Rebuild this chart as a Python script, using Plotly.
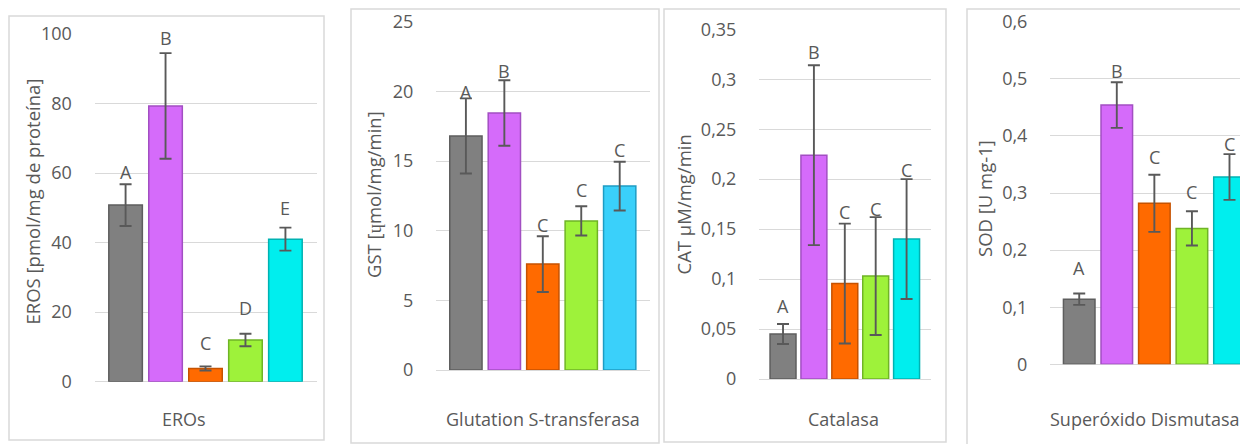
import plotly.graph_objects as go

W, H = 1248, 444
OFF = 8  # page body margin offset of the rendered figure

# ---------------- data ----------------
series_names = ["Grupo 1", "Grupo 2", "Grupo 3", "Grupo 4", "Grupo 5"]

eros_category = ["EROs"]
eros_mean = [50.8, 79.3, 3.8, 12.0, 41.0]
eros_err = [6.0, 15.2, 0.6, 1.8, 3.3]
eros_letters = ["A", "B", "C", "D", "E"]
eros_ticks = [0, 20, 40, 60, 80, 100]
eros_ticktext = ["0", "20", "40", "60", "80", "100"]

gst_category = ["Glutation S-transferasa"]
gst_mean = [16.8, 18.45, 7.6, 10.7, 13.2]
gst_err = [2.7, 2.35, 2.0, 1.05, 1.75]
gst_letters = ["A", "B", "C", "C", "C"]
gst_ticks = [0, 5, 10, 15, 20, 25]
gst_ticktext = ["0", "5", "10", "15", "20", "25"]

cat_category = ["Catalasa"]
cat_mean = [0.045, 0.224, 0.0955, 0.103, 0.140]
cat_err = [0.01, 0.09, 0.06, 0.059, 0.06]
cat_letters = ["A", "B", "C", "C", "C"]
cat_ticks = [0, 0.05, 0.1, 0.15, 0.2, 0.25, 0.3, 0.35]
cat_ticktext = ["0", "0,05", "0,1", "0,15", "0,2", "0,25", "0,3", "0,35"]

sod_category = ["Superóxido Dismutasa"]
sod_mean = [0.114, 0.454, 0.282, 0.238, 0.328]
sod_err = [0.01, 0.04, 0.05, 0.03, 0.04]
sod_letters = ["A", "B", "C", "C", "C"]
sod_ticks = [0, 0.1, 0.2, 0.3, 0.4, 0.5, 0.6]
sod_ticktext = ["0", "0,1", "0,2", "0,3", "0,4", "0,5", "0,6"]

# ---------------- styles ----------------
FONT = "Open Sans"
TXT = "#595959"
GRID = "#D9D9D9"
fills_std = ["#808080", "#D56BFA", "#FF6A00", "#9EF23A", "#00EEEE"]
fills_gst = ["#808080", "#D56BFA", "#FF6A00", "#9EF23A", "#3AD0FA"]
edges_std = ["#5E5E5E", "#A24FC2", "#C65200", "#6FB426", "#00B2B2"]
edges_gst = ["#5E5E5E", "#A24FC2", "#C65200", "#6FB426", "#1E9CC4"]

BARGAP = 0.1
BARGROUPGAP = 0.16

panels = [
    dict(cat=eros_category, mean=eros_mean, err=eros_err, letters=eros_letters,
         ticks=eros_ticks, ticktext=eros_ticktext, ymax=100,
         ytitle="EROS [pmol/mg de proteína]",
         fills=fills_std, edges=edges_std,
         px=(94.5, 316.5), py=(34, 381.7), xr=(-0.5, 0.5),
         border=(9, 16, 324, 440), ytitle_xy=(32, 201.5), xlab_x=184,
         offs=[12, 15, 23, 26, 20]),
    dict(cat=gst_category, mean=gst_mean, err=gst_err, letters=gst_letters,
         ticks=gst_ticks, ticktext=gst_ticktext, ymax=25,
         ytitle="GST [ɥmol/mg/min]",
         fills=fills_gst, edges=edges_gst,
         px=(436, 649.6), py=(21.7, 370), xr=(-0.5, 0.5),
         border=(351, 9, 659, 443), ytitle_xy=(373, 195), xlab_x=542.5,
         offs=[6, 9, 11, 16, 12]),
    dict(cat=cat_category, mean=cat_mean, err=cat_err, letters=cat_letters,
         ticks=cat_ticks, ticktext=cat_ticktext, ymax=0.35,
         ytitle="CAT µM/mg/min",
         fills=fills_std, edges=edges_std,
         px=(759, 930.6), py=(29.3, 379), xr=(-0.5, 0.5),
         border=(664, 9, 946, 442), ytitle_xy=(683, 204.5), xlab_x=844,
         offs=[18, 13, 12, 8, 9]),
    dict(cat=sod_category, mean=sod_mean, err=sod_err, letters=sod_letters,
         ticks=sod_ticks, ticktext=sod_ticktext, ymax=0.6,
         ytitle="SOD [U mg-1]",
         fills=fills_std, edges=edges_std,
         px=(1050, 1256), py=(21.7, 364.3), xr=(-0.5, 0.487),
         border=(967, 9, 1275, 470), ytitle_xy=(985, 199), xlab_x=1145,
         offs=[26, 11, 18, 19, 10]),
]


def fx(p):
    return (p - OFF) / W


def fy(p):
    return 1 - (p - OFF) / H


fig = go.Figure()
annotations = []
shapes = []

for k, P in enumerate(panels):
    n = "" if k == 0 else str(k + 1)
    xa, ya = "x" + n, "y" + n
    for i in range(5):
        fig.add_trace(go.Bar(
            x=P["cat"], y=[P["mean"][i]], name=series_names[i],
            xaxis=xa, yaxis=ya, showlegend=False,
            marker=dict(color=P["fills"][i], line=dict(color=P["edges"][i], width=1.5)),
            error_y=dict(type="data", array=[P["err"][i]], visible=True,
                         color=TXT, thickness=1.9, width=6),
        ))
        slot = (1 - BARGAP) / 5
        xc = -(1 - BARGAP) / 2 + slot * (i + 0.5)
        annotations.append(dict(
            x=xc, y=P["mean"][i] + P["err"][i], xref=xa, yref=ya,
            text=P["letters"][i], showarrow=False, yshift=P["offs"][i],
            xanchor="center", yanchor="middle",
            font=dict(family=FONT, size=18, color=TXT)))
    x0, x1 = fx(P["px"][0]), min(1.0, fx(P["px"][1]))
    xr = list(P["xr"])
    if fx(P["px"][1]) > 1.0:
        frac = (x1 - x0) / (fx(P["px"][1]) - x0)
        xr = [xr[0], xr[0] + (xr[1] - xr[0]) * frac]
    fig.layout["xaxis" + n] = dict(
        domain=[x0, x1], anchor=ya,
        type="category", range=xr, automargin=False,
        showticklabels=False, showgrid=False, zeroline=False, showline=False,
        fixedrange=True)
    fig.layout["yaxis" + n] = dict(
        domain=[fy(P["py"][1]), fy(P["py"][0])], anchor=xa, automargin=False,
        range=[0, P["ymax"]], tickvals=P["ticks"], ticktext=P["ticktext"],
        showgrid=True, gridcolor=GRID, gridwidth=1.2,
        zeroline=True, zerolinecolor=GRID, zerolinewidth=1.2, showline=False,
        ticks="outside", ticklen=18, tickcolor="rgba(0,0,0,0)",
        tickfont=dict(family=FONT, size=18, color=TXT))
    annotations.append(dict(
        x=fx(P["ytitle_xy"][0]), y=fy(P["ytitle_xy"][1]), xref="paper", yref="paper",
        text=P["ytitle"], textangle=-90, showarrow=False,
        xanchor="center", yanchor="middle",
        font=dict(family=FONT, size=18.5, color=TXT)))
    annotations.append(dict(
        x=fx(P["xlab_x"]), y=fy(419), xref="paper", yref="paper",
        text=P["cat"][0], showarrow=False, xanchor="center", yanchor="middle",
        font=dict(family=FONT, size=18, color=TXT)))
    b = P["border"]
    shapes.append(dict(type="rect", xref="paper", yref="paper",
                       x0=fx(b[0]), x1=fx(b[2]), y0=fy(b[3]), y1=fy(b[1]),
                       line=dict(color=GRID, width=1.5), fillcolor="rgba(0,0,0,0)",
                       layer="below"))

fig.update_layout(
    width=W, height=H, margin=dict(l=0, r=0, t=0, b=0, autoexpand=False),
    paper_bgcolor="white", plot_bgcolor="rgba(0,0,0,0)",
    barmode="group", bargap=BARGAP, bargroupgap=BARGROUPGAP,
    annotations=annotations, shapes=shapes,
    font=dict(family=FONT, color=TXT),
)

fig.write_html("out.html")
